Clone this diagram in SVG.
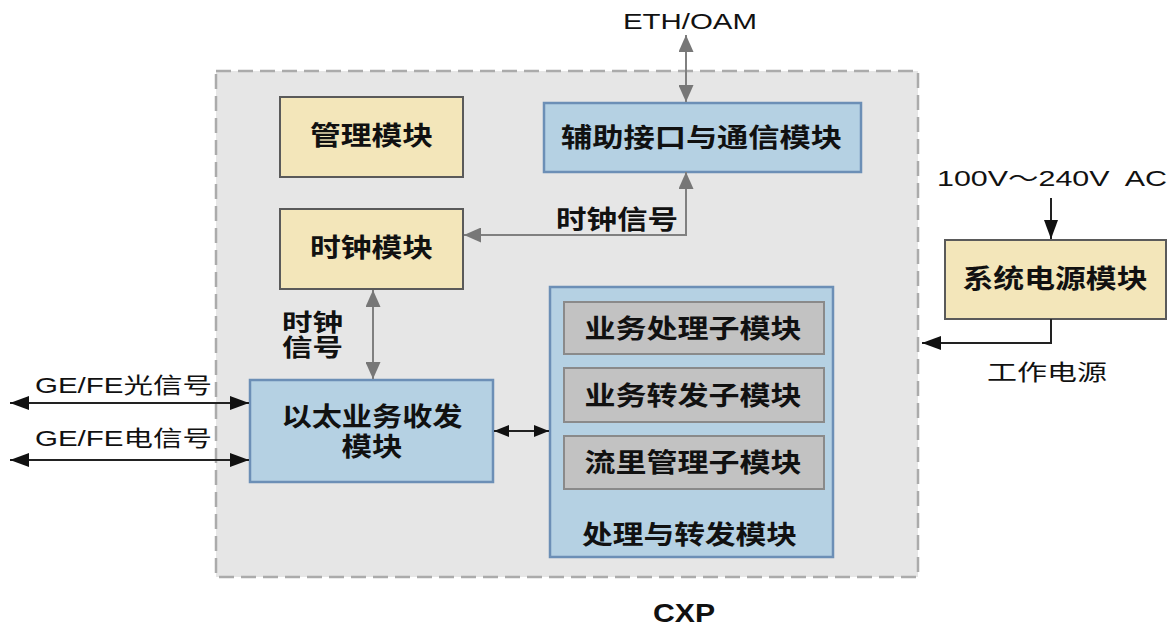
<svg xmlns="http://www.w3.org/2000/svg" width="1173" height="626" viewBox="0 0 1173 626">
<style>
.yel{fill:#f3e6ba;stroke:#5a5a5a;stroke-width:2}
.blu{fill:#b5d1e3;stroke:#6c8fb6;stroke-width:2.5}
.gry{fill:#c2c2c2;stroke:#8a8a8a;stroke-width:2}
.lb{font-family:"Noto Sans CJK SC","Noto Sans",sans-serif;font-weight:bold;font-size:26px;fill:#111;text-anchor:middle}
.lr{font-family:"Liberation Sans","Noto Sans CJK SC",sans-serif;font-size:22px;fill:#111}
.gl{fill:none;stroke:#808080;stroke-width:2}
.bl{fill:none;stroke:#222;stroke-width:2}
</style>
<defs>
<marker id="ag" viewBox="0 0 17 15" refX="17" refY="7.5" markerWidth="17" markerHeight="15" markerUnits="userSpaceOnUse" orient="auto-start-reverse"><path d="M0,0 L17,7.5 L0,15 Z" fill="#777"/></marker>
<marker id="ab" viewBox="0 0 19 14" refX="19" refY="7" markerWidth="19" markerHeight="14" markerUnits="userSpaceOnUse" orient="auto-start-reverse"><path d="M0,0 L19,7 L0,14 Z" fill="#111"/></marker>
<marker id="as" viewBox="0 0 15 12" refX="15" refY="6" markerWidth="15" markerHeight="12" markerUnits="userSpaceOnUse" orient="auto-start-reverse"><path d="M0,0 L15,6 L0,12 Z" fill="#111"/></marker>
</defs>
<rect width="1173" height="626" fill="#ffffff"/>
<g id="cxp">
<rect x="216" y="71" width="702" height="506" fill="#e6e6e6" stroke="#ababab" stroke-width="2.5" stroke-dasharray="15,7"/>
<text x="684" y="622" font-family="Liberation Sans,sans-serif" font-weight="bold" font-size="25" fill="#111" text-anchor="middle" textLength="62" lengthAdjust="spacingAndGlyphs">CXP</text>
</g>
<g id="mgmt">
<rect class="yel" x="280" y="97" width="183" height="80"/>
<text class="lb" x="371.5" y="145" textLength="123" lengthAdjust="spacingAndGlyphs">管理模块</text>
</g>
<g id="clock">
<rect class="yel" x="280" y="209" width="183" height="80"/>
<text class="lb" x="371.5" y="257" textLength="123" lengthAdjust="spacingAndGlyphs">时钟模块</text>
</g>
<g id="aux">
<rect class="blu" x="544" y="103" width="317" height="69"/>
<text class="lb" x="701.5" y="147" textLength="281" lengthAdjust="spacingAndGlyphs">辅助接口与通信模块</text>
</g>
<g id="eth">
<rect class="blu" x="250" y="380" width="243" height="102"/>
<text class="lb"><tspan x="372" y="425.5" textLength="181" lengthAdjust="spacingAndGlyphs">以太业务收发</tspan><tspan x="372" y="455.5" textLength="61" lengthAdjust="spacingAndGlyphs">模块</tspan></text>
</g>
<g id="proc">
<rect class="blu" x="550" y="287" width="283" height="270"/>
<rect class="gry" x="564" y="302" width="260" height="52"/>
<text class="lb" x="693" y="337.5" textLength="217" lengthAdjust="spacingAndGlyphs">业务处理子模块</text>
<rect class="gry" x="564" y="368" width="260" height="54"/>
<text class="lb" x="693" y="404.5" textLength="217" lengthAdjust="spacingAndGlyphs">业务转发子模块</text>
<rect class="gry" x="564" y="436" width="260" height="53"/>
<text class="lb" x="693" y="471.5" textLength="217" lengthAdjust="spacingAndGlyphs">流里管理子模块</text>
<text class="lb" x="689.5" y="543.5" textLength="215" lengthAdjust="spacingAndGlyphs">处理与转发模块</text>
</g>
<g id="power">
<rect class="yel" x="945" y="240" width="221" height="79"/>
<text class="lb" x="1055" y="287.5" textLength="185" lengthAdjust="spacingAndGlyphs">系统电源模块</text>
</g>
<g id="connectors">
<line class="gl" x1="686" y1="35" x2="686" y2="102" marker-start="url(#ag)" marker-end="url(#ag)"/>
<polyline class="gl" points="686,172 686,235 464,235" marker-start="url(#ag)" marker-end="url(#ag)"/>
<line class="gl" x1="373" y1="290" x2="373" y2="379" marker-start="url(#ag)" marker-end="url(#ag)"/>
<line class="bl" x1="494" y1="431" x2="549" y2="431" marker-start="url(#as)" marker-end="url(#as)"/>
<line class="bl" x1="10" y1="403" x2="249" y2="403" marker-start="url(#ab)" marker-end="url(#ab)"/>
<line class="bl" x1="10" y1="460" x2="249" y2="460" marker-start="url(#ab)" marker-end="url(#ab)"/>
<line class="bl" x1="1051" y1="198" x2="1051" y2="239" marker-end="url(#ab)"/>
<polyline class="bl" points="1051,319 1051,343 922,343" marker-end="url(#ab)"/>
</g>
<g id="labels">
<text class="lr" x="623" y="29" textLength="134" lengthAdjust="spacingAndGlyphs">ETH/OAM</text>
<text class="lb" x="617" y="228.5" textLength="122" lengthAdjust="spacingAndGlyphs">时钟信号</text>
<text class="lb" style="font-size:24px"><tspan x="312.5" y="331" textLength="61" lengthAdjust="spacingAndGlyphs">时钟</tspan><tspan x="312.5" y="356" textLength="61" lengthAdjust="spacingAndGlyphs">信号</tspan></text>
<text class="lr" x="35" y="393" textLength="177" lengthAdjust="spacingAndGlyphs">GE/FE光信号</text>
<text class="lr" x="35" y="446" textLength="177" lengthAdjust="spacingAndGlyphs">GE/FE电信号</text>
<text class="lr" x="937" y="186" xml:space="preserve" textLength="230" lengthAdjust="spacingAndGlyphs">100V～240V  AC</text>
<text class="lr" x="987" y="380" textLength="120" lengthAdjust="spacingAndGlyphs">工作电源</text>
</g>
</svg>
